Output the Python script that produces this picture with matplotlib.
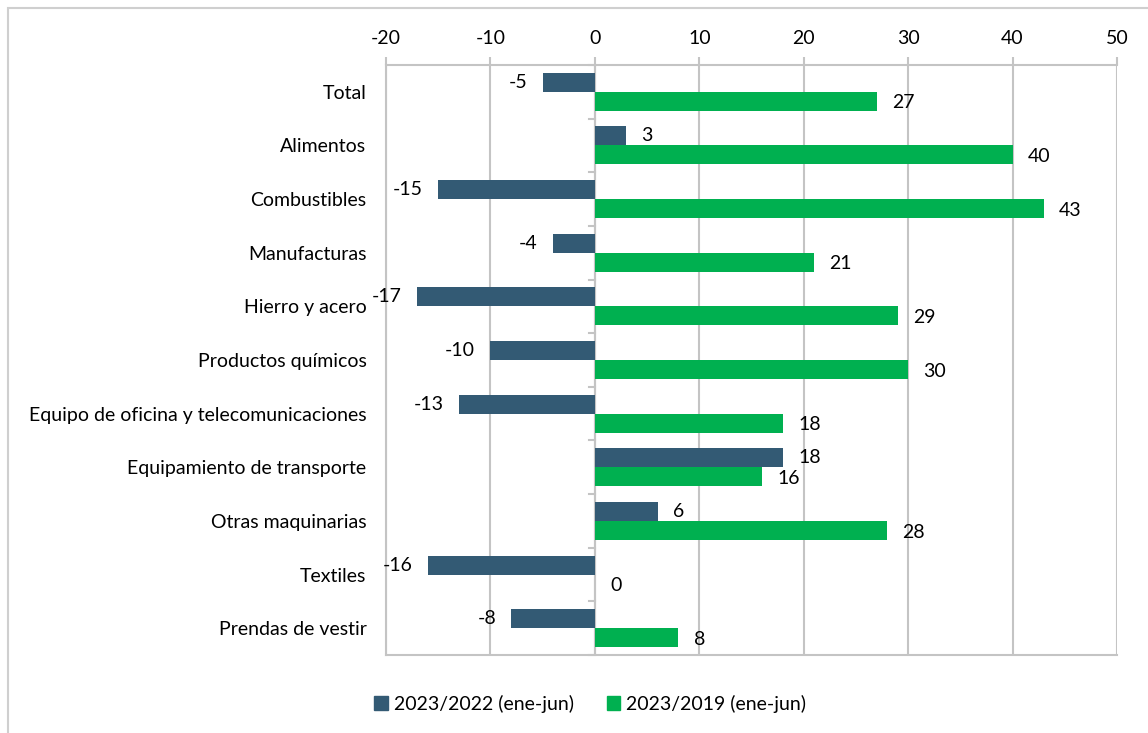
import matplotlib
matplotlib.use("Agg")
import matplotlib.pyplot as plt
from matplotlib.patches import Rectangle, Patch
import numpy as np

categories = ["Total", "Alimentos", "Combustibles", "Manufacturas", "Hierro y acero",
              "Productos químicos", "Equipo de oficina y telecomunicaciones",
              "Equipamiento de transporte", "Otras maquinarias", "Textiles",
              "Prendas de vestir"]
s2022 = [-5, 3, -15, -4, -17, -10, -13, 18, 6, -16, -8]
s2019 = [27, 40, 43, 21, 29, 30, 18, 16, 28, 0, 8]
series_names = ["2023/2022 (ene-jun)", "2023/2019 (ene-jun)"]
xticks = [-20, -10, 0, 10, 20, 30, 40, 50]

c_blue = "#335A74"
c_green = "#00B050"
c_grid = "#C4C4C4"
plt.rcParams['font.family'] = ['Lato', 'DejaVu Sans']
plt.rcParams['axes.unicode_minus'] = False
fs = 14

fig = plt.figure(figsize=(11.48, 7.33), dpi=100)
fig.patches.append(Rectangle((8/1148, -0.1), 1.2, 1 - 8/733 + 0.1, transform=fig.transFigure,
                             fill=False, edgecolor="#CFCFCF", linewidth=1.5))
ax = fig.add_axes([386/1148, 1 - 655/733, 731/1148, 590/733])

y = np.arange(len(categories))
h = 0.355
ax.barh(y - h/2, s2022, height=h, color=c_blue, zorder=3)
ax.barh(y + h/2, s2019, height=h, color=c_green, zorder=3)

for yi, v in zip(y, s2022):
    ax.annotate(str(v), (v, yi - h/2), xytext=(11 if v >= 0 else -11, 0), textcoords="offset points",
                ha="left" if v >= 0 else "right", va="center", fontsize=fs)
for yi, v in zip(y, s2019):
    ax.annotate(str(v), (v, yi + h/2 + 0.03), xytext=(11 if v >= 0 else -11, 0), textcoords="offset points",
                ha="left" if v >= 0 else "right", va="center", fontsize=fs)

ax.set_xlim(-20, 50)
ax.set_ylim(len(categories) - 0.5, -0.5)
ax.set_xticks(xticks)
ax.xaxis.tick_top()
ax.tick_params(axis="x", length=6, width=1.5, color=c_grid, labelsize=fs, pad=7)
ax.set_yticks(y)
ax.set_yticklabels(categories, fontsize=fs)
ax.tick_params(axis="y", length=0, pad=14)
ax.grid(axis="x", color=c_grid, linewidth=1.5, zorder=0)
for side in ["top", "bottom", "left", "right"]:
    ax.spines[side].set_color(c_grid)
    ax.spines[side].set_linewidth(1.5)
ax.spines["right"].set_visible(False)

# zero axis with category tick marks
ax.axvline(0, color=c_grid, linewidth=1.5, zorder=2)
for b in np.arange(-0.5, len(categories), 1.0):
    ax.plot([-0.55, 0], [b, b], color=c_grid, linewidth=1.5, zorder=2, clip_on=False)

handles = [Patch(color=c_blue), Patch(color=c_green)]
fig.legend(handles, series_names, loc="center", bbox_to_anchor=(0.514, 1 - 704/733), ncol=2,
           frameon=False, fontsize=fs, handlelength=0.7, handleheight=0.7, handletextpad=0.3,
           columnspacing=1.7)

fig.savefig("out.png", dpi=100)
